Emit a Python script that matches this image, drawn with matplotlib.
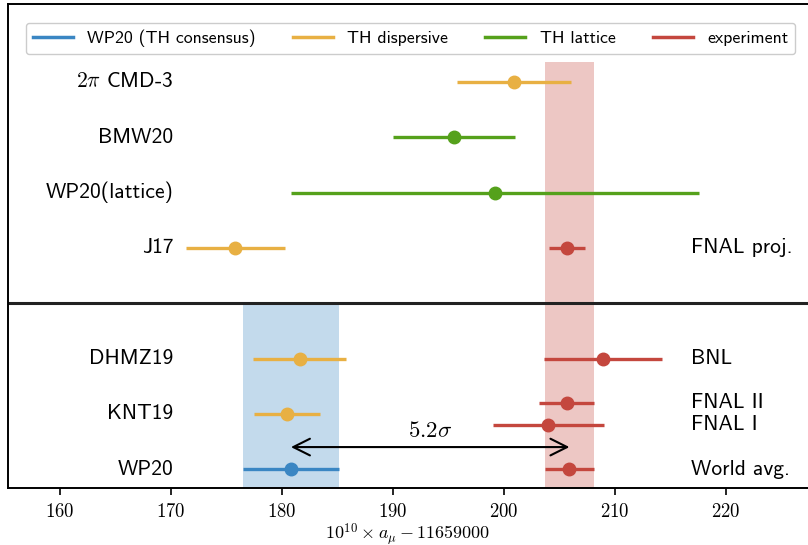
import numpy as np
import matplotlib.pyplot as plt
from matplotlib.lines import Line2D
from matplotlib.ticker import FuncFormatter

plt.rcParams['mathtext.fontset'] = 'cm'

# colours per source of the value
colors = {'wp': '#3a86c3', 'disp': '#e8b043', 'latt': '#55a11b', 'exp': '#c4473e'}

# theory predictions, upper block
top_labels = [r'$2\pi$ CMD-3', 'BMW20', 'WP20(lattice)', 'J17']
top_vals = [200.9, 195.5, 199.2, 175.8]
top_errs = [5.15, 5.5, 18.35, 4.5]
top_kinds = ['disp', 'latt', 'latt', 'disp']
top_y = [7, 6, 5, 4]

# theory predictions, lower block
th_labels = ['DHMZ19', 'KNT19', 'WP20']
th_vals = [181.6, 180.45, 180.8]
th_errs = [4.2, 2.95, 4.3]
th_kinds = ['disp', 'disp', 'wp']
th_y = [2, 1, 0]

# measurements
exp_labels = ['FNAL proj.', 'BNL', 'FNAL II', 'FNAL I', 'World avg.']
exp_vals = [205.7, 208.9, 205.65, 204.0, 205.9]
exp_errs = [1.6, 5.3, 2.45, 5.0, 2.2]
exp_y = [4, 2, 1.2, 0.8, 0]

tension = r'$5.2\sigma$'
xticks = [160, 170, 180, 190, 200, 210, 220]

fig = plt.figure(figsize=(8.08, 5.45), dpi=100)
ax = fig.add_axes([8/808, 1 - 488/545, 800/808, 484/545])
ax.set_xlim(155.3, 227.4)
ax.set_ylim(-0.34, 8.41)

# bands for the consensus prediction and the world average
wp_v, wp_e = th_vals[2], th_errs[2]
wa_v, wa_e = exp_vals[4], exp_errs[4]
ax.fill_betweenx([-0.34, 3], wp_v - wp_e, wp_v + wp_e, color=colors['wp'], alpha=0.3, lw=0)
ax.fill_betweenx([-0.34, 7.36], wa_v - wa_e, wa_v + wa_e, color=colors['exp'], alpha=0.3, lw=0)

ax.axhline(3, color='#222222', lw=2.2)

lab_font = dict(family='cmss10', fontsize=15.5)

def draw(vals, errs, ys, kinds, labels, side):
    for v, e, y, k, lab in zip(vals, errs, ys, kinds, labels):
        ax.errorbar(v, y, xerr=e, fmt='o', color=colors[k], ms=9,
                    elinewidth=2.4, capsize=0)
        if side == 'left':
            ax.text(170.2, y, lab, ha='right', va='center', **lab_font)
        else:
            ax.text(216.9, y, lab, ha='left', va='center', **lab_font)

draw(top_vals, top_errs, top_y, top_kinds, top_labels, 'left')
draw(th_vals, th_errs, th_y, th_kinds, th_labels, 'left')
draw(exp_vals, exp_errs, exp_y, ['exp'] * len(exp_vals), exp_labels, 'right')

# tension arrow between consensus and world average
ax.annotate('', xy=(wa_v, 0.4), xytext=(wp_v, 0.4),
            arrowprops=dict(arrowstyle='<->', color='black', lw=1.5,
                            mutation_scale=30, shrinkA=0, shrinkB=0))
ax.text((wp_v + wa_v) / 2, 0.5, tension, ha='center', va='bottom', fontsize=16.5)

ax.set_yticks([])
ax.set_xticks(xticks)
ax.xaxis.set_major_formatter(FuncFormatter(lambda v, p: f'${v:.0f}$'))
ax.tick_params(axis='x', labelsize=13.5, length=5, width=1.2, pad=5)
ax.spines['right'].set_visible(False)
for s in ['left', 'bottom', 'top']:
    ax.spines[s].set_linewidth(1.4)
ax.set_xlabel(r'$10^{10} \times a_\mu - 11659000$', fontsize=13, labelpad=0)

handles = [Line2D([], [], color=colors[k], lw=2.5) for k in ['wp', 'disp', 'latt', 'exp']]
names = ['WP20 (TH consensus)', 'TH dispersive', 'TH lattice', 'experiment']
ax.legend(handles, names, ncol=4, loc='upper center', bbox_to_anchor=(0.508, 0.975),
          bbox_transform=fig.transFigure, prop=dict(family='cmss10', size=12.8),
          handlelength=2.25, columnspacing=2.1, handletextpad=0.8,
          framealpha=1, edgecolor='#cccccc')

fig.savefig('out.png', dpi=100)
